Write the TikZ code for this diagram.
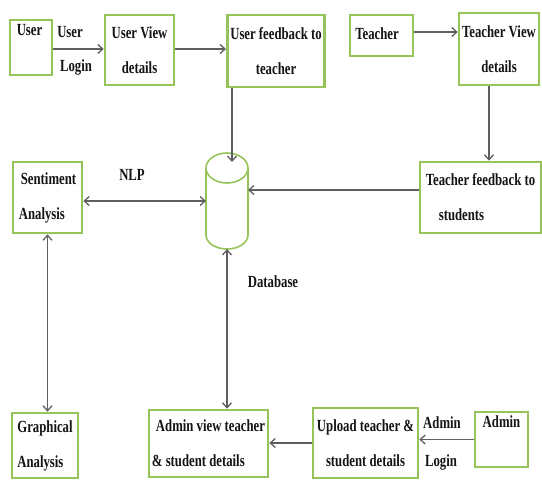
\documentclass[tikz,border=0pt]{standalone}
\usepackage{fontspec}
\setmainfont{Liberation Serif}[FakeStretch=0.75]
\usetikzlibrary{arrows.meta,calc}
\definecolor{boxgreen}{RGB}{150,195,90}
\definecolor{arrgray}{RGB}{95,95,95}
\definecolor{txt}{RGB}{20,20,20}
\begin{document}
\begin{tikzpicture}[x=1pt,y=-1pt,
  box/.style={draw=boxgreen, line width=2.6pt, fill=white, inner sep=3pt,
    font=\fontsize{17}{35}\selectfont\bfseries, text=txt, align=center},
  dbline/.style={draw=boxgreen, line width=1.6pt},
  arr/.style={draw=arrgray, line width=1.3pt, -{Straight Barb[length=5pt,width=9pt]}},
  barr/.style={draw=arrgray, line width=1.3pt, {Straight Barb[length=5pt,width=9pt]}-{Straight Barb[length=5pt,width=9pt]}},
  lbl/.style={font=\fontsize{17}{35}\selectfont\bfseries, text=txt, inner sep=0pt}]
\useasboundingbox (0,0) rectangle (542,480);
% boxes
\node[box, minimum width=42, minimum height=55] (user) at (31,47.5) {User\hspace*{3pt}\\\mbox{}};
\node[box, minimum width=69, minimum height=70] (uview) at (139.5,50) {User View\\details};
\node[box, minimum width=96, minimum height=72] (ufb) at (276,51) {User feedback to\\teacher};
\node[box, minimum width=63, minimum height=41] (teacher) at (381.5,35.5) {\raisebox{3pt}{Teacher}\hspace*{9pt}};
\node[box, minimum width=80, minimum height=72] (tview) at (499,49) {Teacher View\\details};
\node[box, minimum width=121, minimum height=71, align=left] (tfb) at (480.5,197.5) {Teacher feedback to\\\hspace*{13pt}students};
\node[box, minimum width=69, minimum height=71, align=left] (sent) at (47.5,197.5) {\hspace*{2pt}Sentiment\\Analysis};
\node[box, minimum width=66, minimum height=65, align=left] (graph) at (45,445.5) {Graphical\\Analysis};
\node[box, minimum width=119, minimum height=67, align=left] (aview) at (208.5,443.5) {\hspace*{4pt}Admin view teacher\\\& student details};
\node[box, minimum width=105, minimum height=70] (upload) at (365.5,443) {Upload teacher \&\\student details};
\node[box, minimum width=53, minimum height=55] (admin) at (501.5,439.5) {Admin\\\mbox{}};
% database cylinder
\node[minimum width=42, minimum height=96, inner sep=0pt, outer sep=0pt] (db) at (227,201) {};
\draw[dbline] ($(db.north)+(0,15)$) ellipse [x radius=21pt, y radius=15pt];
\draw[dbline] ($(db.north west)+(0,15)$) -- ($(db.south west)+(0,-14)$)
  arc[start angle=180, end angle=360, x radius=21pt, y radius=14pt]
  -- ($(db.north east)+(0,15)$);
\coordinate (dbin) at ($(db.north)+(5,9)$);
% labels
\node[lbl] (lbuser) at (70,32) {User};
\node[lbl] (lblogin) at (76,67) {Login};
\node[lbl] (nlp) at (132,175) {NLP};
\node[lbl] (dblbl) at (273,282) {Database};
\node[lbl] (lbadmin) at (442,423) {Admin};
\node[lbl] (lbalogin) at (441,462) {Login};
% connectors
\draw[arr] ([yshift=-1.5pt]user.east) -- ([yshift=-1.5pt]user.east -| uview.west);
\draw[arr] ([yshift=1pt]uview.east) -- ([yshift=1pt]uview.east -| ufb.west);
\draw[arr] (ufb.south -| dbin) -- (dbin);
\draw[arr] ([yshift=3.5pt]teacher.east) -- ([yshift=3.5pt]teacher.east -| tview.west);
\draw[arr] ([xshift=-10pt]tview.south) -- ([xshift=-10pt]tview.south |- tfb.north);
\draw[arr] ([yshift=7.5pt]tfb.west) -- ([yshift=7.5pt]tfb.west -| db.east);
\draw[barr] (sent.east |- db.west) -- (db.west);
\draw[barr] (sent.south) -- (sent.south |- graph.north);
\draw[barr] (db.south) -- (db.south |- aview.north);
\draw[arr] (upload.west) -- (upload.west -| aview.east);
\draw[arr] (admin.west) -- (admin.west -| upload.east);
\end{tikzpicture}
\end{document}
